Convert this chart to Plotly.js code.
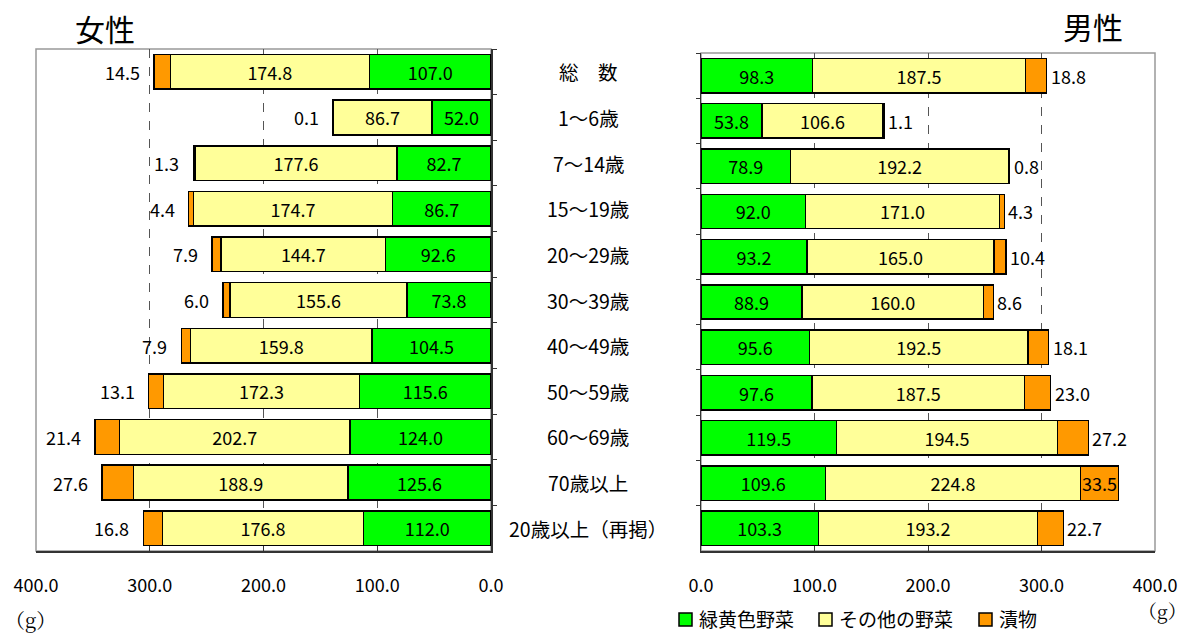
<!DOCTYPE html>
<html>
<head>
<meta charset="utf-8">
<script src="https://cdn.plot.ly/plotly-3.0.1.min.js"></script>
<style>html,body{margin:0;padding:0;background:#fff;}#chart{width:1189px;height:635px;}</style>
</head>
<body>
<div id="chart"></div>
<script>
// ---- data ----
const categories = ['総　数', '1～6歳', '7～14歳', '15～19歳', '20～29歳', '30～39歳', '40～49歳', '50～59歳', '60～69歳', '70歳以上', '20歳以上（再掲）'];
const seriesNames = ['緑黄色野菜', 'その他の野菜', '漬物'];
const femaleGreen  = [107.0, 52.0, 82.7, 86.7, 92.6, 73.8, 104.5, 115.6, 124.0, 125.6, 112.0];
const femaleOther  = [174.8, 86.7, 177.6, 174.7, 144.7, 155.6, 159.8, 172.3, 202.7, 188.9, 176.8];
const femalePickle = [14.5, 0.1, 1.3, 4.4, 7.9, 6.0, 7.9, 13.1, 21.4, 27.6, 16.8];
const maleGreen    = [98.3, 53.8, 78.9, 92.0, 93.2, 88.9, 95.6, 97.6, 119.5, 109.6, 103.3];
const maleOther    = [187.5, 106.6, 192.2, 171.0, 165.0, 160.0, 192.5, 187.5, 194.5, 224.8, 193.2];
const malePickle   = [18.8, 1.1, 0.8, 4.3, 10.4, 8.6, 18.1, 23.0, 27.2, 33.5, 22.7];
const xTicks = [0, 100, 200, 300, 400];
const titleFemale = '女性';
const titleMale = '男性';
const unitLabel = '（g）';

// ---- style ----
const FONT = '"Noto Sans CJK JP", "Noto Sans", sans-serif';
const SERIF = '"Noto Serif CJK JP", "DejaVu Serif", serif';
const colors = ['#00FF00', '#FFFF99', '#FF9900'];
const fmt = v => v.toFixed(1);
const insideMin = 30;
const W = 1189, H = 635;
const px = x => x / W;
const py = y => (H - y) / H;

function makeTraces(vals, xa, ya) {
  return vals.map((arr, i) => {
    const isPickle = i === 2;
    return {
      type: 'bar', orientation: 'h',
      x: arr, y: categories,
      xaxis: xa, yaxis: ya,
      name: seriesNames[i],
      showlegend: false,
      marker: {color: colors[i], line: {color: '#000', width: 1.5}},
      text: arr.map(v => (isPickle && v < insideMin) ? '' : fmt(v)),
      textposition: 'inside',
      insidetextanchor: 'middle',
      textangle: 0,
      constraintext: 'none',
      textfont: {family: FONT, size: 18, color: '#000'},
      hoverinfo: 'skip'
    };
  });
}

const traces = [
  ...makeTraces([femaleGreen, femaleOther, femalePickle], 'x', 'y'),
  ...makeTraces([maleGreen, maleOther, malePickle], 'x2', 'y2')
];

const annotations = [];
const shapes = [
  {type: 'rect', xref: 'x domain', yref: 'y domain', x0: 0, x1: 1, y0: 0, y1: 1,
    line: {color: '#999', width: 1.5}, layer: 'below'},
  {type: 'rect', xref: 'x2 domain', yref: 'y2 domain', x0: 0, x1: 1, y0: 0, y1: 1,
    line: {color: '#999', width: 1.5}, layer: 'below'}
];

categories.forEach((c, i) => {
  const ft = femaleGreen[i] + femaleOther[i] + femalePickle[i];
  if (femalePickle[i] < insideMin) {
    annotations.push({x: ft, y: c, xref: 'x', yref: 'y', text: fmt(femalePickle[i]),
      showarrow: false, xanchor: 'right', xshift: -12, font: {family: FONT, size: 18, color: '#000'}});
  }
  const mt = maleGreen[i] + maleOther[i] + malePickle[i];
  if (malePickle[i] < insideMin) {
    annotations.push({x: mt, y: c, xref: 'x2', yref: 'y2', text: fmt(malePickle[i]),
      showarrow: false, xanchor: 'left', xshift: 2, font: {family: FONT, size: 18, color: '#000'}});
  }
  annotations.push({x: px(588), y: c, xref: 'paper', yref: 'y', text: c, showarrow: false,
    xanchor: 'center', font: {family: FONT, size: 19.5, color: '#000'}});
});
annotations.push({x: px(105), y: py(28), xref: 'paper', yref: 'paper', text: titleFemale, showarrow: false,
  xanchor: 'center', yanchor: 'middle', font: {family: FONT, size: 30, color: '#000'}});
annotations.push({x: px(1093), y: py(26), xref: 'paper', yref: 'paper', text: titleMale, showarrow: false,
  xanchor: 'center', yanchor: 'middle', font: {family: FONT, size: 30, color: '#000'}});
annotations.push({x: px(30), y: py(619), xref: 'paper', yref: 'paper', text: unitLabel, showarrow: false,
  xanchor: 'center', yanchor: 'middle', font: {family: SERIF, size: 20, color: '#000'}});
annotations.push({x: px(1162), y: py(610), xref: 'paper', yref: 'paper', text: unitLabel, showarrow: false,
  xanchor: 'center', yanchor: 'middle', font: {family: SERIF, size: 19, color: '#000'}});

// custom legend (boxes + names)
const legendBoxX = [679, 819, 979];
legendBoxX.forEach((bx, i) => {
  shapes.push({type: 'rect', xref: 'paper', yref: 'paper', x0: px(bx), x1: px(bx + 13),
    y0: py(626), y1: py(613), fillcolor: colors[i], line: {color: '#000', width: 1.5}});
  annotations.push({x: px(bx + 18), y: py(618), xref: 'paper', yref: 'paper', text: seriesNames[i],
    showarrow: false, xanchor: 'left', yanchor: 'middle', font: {family: FONT, size: 19, color: '#000'}});
});

const xBase = {
  tickvals: xTicks, ticktext: xTicks.map(fmt),
  ticks: 'inside', ticklen: 5, tickcolor: '#333', tickwidth: 1,
  showline: true, linecolor: '#333', linewidth: 1.5,
  showgrid: true, gridcolor: '#555', griddash: 'dash', gridwidth: 1,
  zeroline: false, fixedrange: true,
  ticklabelstandoff: 18,
  tickfont: {family: FONT, size: 18, color: '#000'}
};
const yBase = {
  type: 'category', categoryorder: 'array', categoryarray: categories,
  autorange: 'reversed', showticklabels: false,
  ticks: 'outside', tickson: 'boundaries', ticklen: 4, tickcolor: '#333',
  showline: true, linecolor: '#333', linewidth: 1.5,
  showgrid: false, zeroline: false, fixedrange: true
};

const layout = {
  width: W, height: H,
  margin: {l: 0, r: 0, t: 0, b: 0},
  paper_bgcolor: '#fff', plot_bgcolor: '#fff',
  barmode: 'stack', bargap: 0.24,
  font: {family: FONT, color: '#000'},
  xaxis: Object.assign({}, xBase, {domain: [px(36), px(491)], range: [400, 0], anchor: 'y'}),
  yaxis: Object.assign({}, yBase, {domain: [py(551), py(49)], anchor: 'x', side: 'right'}),
  xaxis2: Object.assign({}, xBase, {domain: [px(701), px(1155)], range: [0, 400], anchor: 'y2'}),
  yaxis2: Object.assign({}, yBase, {domain: [py(551), py(53)], anchor: 'x2', side: 'left'}),
  showlegend: false,
  shapes: shapes,
  uniformtext: {mode: 'show', minsize: 18},
  annotations: annotations
};

Plotly.newPlot('chart', traces, layout, {staticPlot: true, displayModeBar: false});
</script>
</body>
</html>
